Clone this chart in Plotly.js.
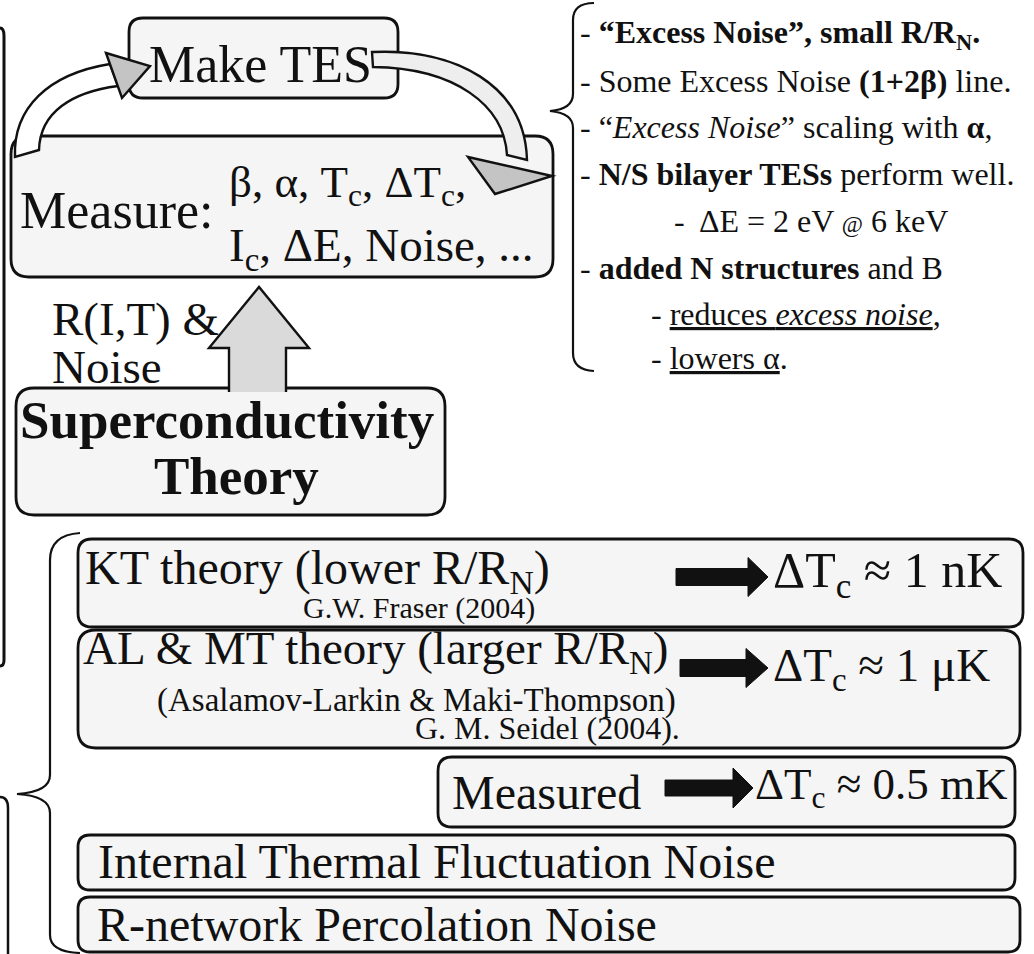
<!DOCTYPE html>
<html>
<head>
<meta charset="utf-8">
<script src="https://cdn.plot.ly/plotly-3.0.1.min.js"></script>
<style>html,body{margin:0;padding:0;background:#fff}#chart{width:1034px;height:954px}</style>
</head>
<body>
<div id="chart"></div>
<script>
// ---- content (text of the diagram) ----
const cycleLabels = ["Make TES", "Measure:"];
const measuredQuantities = ["β, α, T<sub>c</sub>, ΔT<sub>c</sub>,", "I<sub>c</sub>, ΔE, Noise, ..."];
const feedbackLabels = ["R(I,T) &", "Noise"];
const theoryTitle = ["Superconductivity", "Theory"];
const notes = [
  "- <b>“Excess Noise”, small R/R<sub>N</sub>.</b>",
  "- Some Excess Noise <b>(1+2β)</b> line.",
  "- “<i>Excess Noise</i>” scaling with <b>α</b>,",
  "- <b>N/S bilayer TESs</b> perform well.",
  "-  ΔE = 2 eV <span style='font-size:23px'>@</span> 6 keV",
  "- <b>added N structures</b> and B",
  "- <u>reduces <i>excess noise</i></u>,",
  "- <u>lowers α</u>."
];
const theoryRows = ["KT theory (lower R/R<sub>N</sub>)", "AL & MT theory (larger R/R<sub>N</sub>)", "Measured"];
const references = ["G.W. Fraser (2004)", "(Asalamov-Larkin & Maki-Thompson)", "G. M. Seidel (2004)."];
const deltaTcValues = ["1 nK", "1 μK", "0.5 mK"];
const noiseRows = ["Internal Thermal Fluctuation Noise", "R-network Percolation Noise"];

// ---- drawing helpers ----
const FONT = "Liberation Serif, Times New Roman, serif";
const INK = "#111";
const TINT = "#f5f5f5";
function rr(x0, y0, x1, y1, r) {
  return `M${x0+r},${y0} L${x1-r},${y0} Q${x1},${y0} ${x1},${y0+r} L${x1},${y1-r} Q${x1},${y1} ${x1-r},${y1} L${x0+r},${y1} Q${x0},${y1} ${x0},${y1-r} L${x0},${y0+r} Q${x0},${y0} ${x0+r},${y0} Z`;
}
function box(x0, y0, x1, y1, r, w) {
  return {type: "path", xref: "x", yref: "y", path: rr(x0, y0, x1, y1, r),
          line: {color: INK, width: w || 2.8}, fillcolor: TINT, layer: "below"};
}
function pathShape(p, fill, w) {
  return {type: "path", xref: "x", yref: "y", path: p,
          line: {color: INK, width: w === undefined ? 2 : w}, fillcolor: fill || "rgba(0,0,0,0)", layer: "above"};
}
function blockArrow(xs, xh, xt, ym, bodyH, headH) {
  const b0 = ym - bodyH/2, b1 = ym + bodyH/2, h0 = ym - headH/2, h1 = ym + headH/2;
  return `M${xs},${b0} L${xh},${b0} L${xh},${h0} L${xt},${ym} L${xh},${h1} L${xh},${b1} L${xs},${b1} Z`;
}
function txt(text, x, baseline, size, opts) {
  opts = opts || {};
  return Object.assign({
    text: text, x: x, y: baseline - 0.33*size, xref: "x", yref: "y",
    xanchor: "left", yanchor: "middle", showarrow: false, align: "left",
    font: {family: FONT, size: size, color: INK}
  }, opts);
}

const shapes = [];
const ann = [];

// left border fragments of neighbouring boxes
shapes.push(pathShape("M0,28 Q4,28 4,36 L4,660 Q4,666 0,666", null, 3));
shapes.push(pathShape("M0,797 Q8,797 8,808 L8,954", null, 2.5));

// Make TES box and measurement box
shapes.push(box(129, 18, 398, 98, 14));
shapes.push(box(11, 136, 553, 277, 18));

// curved arrows of the cycle
shapes.push(pathShape("M15,157 C13,108 48,74 110,64 L118,86 C72,92 40,112 39,150 Z", "#ffffff", 2.4));
shapes.push(pathShape("M106,53 L150,66 L122,98 Z", "#c4c4c4", 2.4));
shapes.push(pathShape("M372,52 C455,48 525,85 527,160 L507,155 C504,105 455,68 373,67 Z", "#eeeeee", 2.4));
shapes.push(pathShape("M468,157 L552,176 L495,194 Z", "#c4c4c4", 2.4));

// up arrow from theory to measurement
shapes.push(pathShape("M229,392 L229,348 L209,348 L259,287 L309,348 L286,348 L286,392", "#dadada", 2.4));

// superconductivity theory box
shapes.push(box(16, 388, 445, 515, 18));

// right brace
shapes.push(pathShape("M594,3 Q573,3 573,20 L573,94 Q573,109 550,111 Q573,113 573,128 L573,353 Q573,370 594,371", null, 2.2));
// lower brace
shapes.push(pathShape("M80,533 Q50,535 50,560 L50,775 Q50,792 17,794 Q50,796 50,813 L50,935 Q50,952 80,953", null, 2.2));

// lower boxes
shapes.push(box(78, 539, 1023, 627, 14));
shapes.push(box(78, 630, 1020, 748, 18));
shapes.push(box(438, 757, 1015, 827, 14));
shapes.push(box(78, 835, 1015, 890, 12));
shapes.push(box(78, 897, 1020, 952, 12));

// black arrows
shapes.push(pathShape(blockArrow(676, 748, 768, 577, 17, 39), "#111", 1));
shapes.push(pathShape(blockArrow(680, 746, 768, 668, 17, 39), "#111", 1));
shapes.push(pathShape(blockArrow(665, 733, 753, 788, 16, 40), "#111", 1));

// ---- texts ----
ann.push(txt(cycleLabels[0], 147, 82, 52));
ann.push(txt(cycleLabels[1], 18, 228, 52));
ann.push(txt(measuredQuantities[0], 227, 200, 45));
ann.push(txt(measuredQuantities[1], 227, 264, 47));
ann.push(txt(feedbackLabels[0], 50, 335, 47));
ann.push(txt(feedbackLabels[1], 50, 383, 47));
ann.push(txt("<b>" + theoryTitle[0] + "</b>", 18, 437, 53));
ann.push(txt("<b>" + theoryTitle[1] + "</b>", 152, 493, 53));

const noteX = [578, 578, 578, 578, 672, 578, 649, 649];
const noteBase = [45, 92, 138, 185, 232, 279, 325, 369];
notes.forEach((n, i) => ann.push(txt(n, noteX[i], noteBase[i], 32)));

ann.push(txt(theoryRows[0], 83, 587, 48));
ann.push(txt(references[0], 301, 618, 30));
ann.push(txt(theoryRows[1], 81, 667, 47));
ann.push(txt(references[1], 155, 711, 33));
ann.push(txt(references[2], 413, 739, 32));
ann.push(txt(theoryRows[2], 450, 808, 48));

const dtX = [771, 771, 753];
const dtBase = [590, 684, 802];
const dtSize = [50, 47, 45];
deltaTcValues.forEach((v, i) => ann.push(txt("ΔT<sub>c</sub> ≈ " + v, dtX[i], dtBase[i], dtSize[i])));

ann.push(txt(noiseRows[0], 96, 877, 48));
ann.push(txt(noiseRows[1], 95, 940, 48));

const layout = {
  width: 1034, height: 954,
  margin: {l: 0, r: 0, t: 0, b: 0, pad: 0},
  paper_bgcolor: "#ffffff", plot_bgcolor: "#ffffff",
  showlegend: false,
  xaxis: {range: [0, 1034], visible: false, fixedrange: true},
  yaxis: {range: [954, 0], visible: false, fixedrange: true},
  shapes: shapes,
  annotations: ann
};
Plotly.newPlot("chart", [{x: [], y: [], type: "scatter", mode: "markers", hoverinfo: "skip"}], layout, {staticPlot: true, displayModeBar: false});
</script>
</body>
</html>
